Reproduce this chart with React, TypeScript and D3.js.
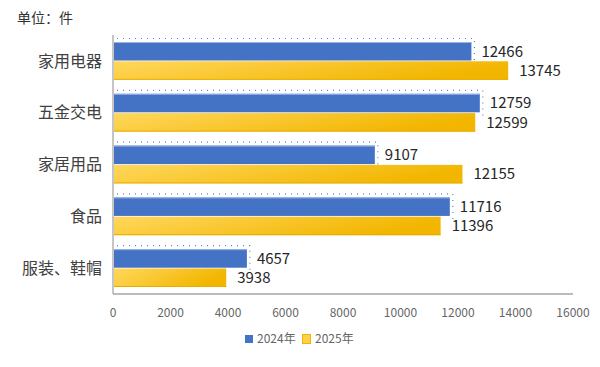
import React, { useEffect, useRef } from 'react';
import * as d3 from 'd3';

const categories = ['家用电器', '五金交电', '家居用品', '食品', '服装、鞋帽'];
const values2024 = [12466, 12759, 9107, 11716, 4657];
const values2025 = [13745, 12599, 12155, 11396, 3938];
const xTicks = [0, 2000, 4000, 6000, 8000, 10000, 12000, 14000, 16000];
const seriesNames = ['2024年', '2025年'];

const App = () => {
  const ref = useRef<SVGSVGElement>(null);

  useEffect(() => {
    const width = 600;
    const height = 367;
    const margin = { top: 35, left: 113, bottom: 73, right: 27 };
    const font = '"Noto Sans CJK SC", "Noto Sans", sans-serif';

    const svg = d3.select(ref.current);
    svg.selectAll('*').remove();
    svg.attr('width', width).attr('height', height);

    const defs = svg.append('defs');
    const grad = defs.append('linearGradient').attr('id', 'yel')
      .attr('x1', '0').attr('y1', '0').attr('x2', '1').attr('y2', '0.3');
    grad.append('stop').attr('offset', '0%').attr('stop-color', '#ffd75c');
    grad.append('stop').attr('offset', '100%').attr('stop-color', '#f2b600');

    const x = d3.scaleLinear().domain([0, 16000]).range([margin.left, width - margin.right]);
    const y = d3.scaleBand().domain(categories).range([margin.top, height - margin.bottom]).paddingInner(0.27).paddingOuter(0.135);
    const sub = d3.scaleBand().domain(seriesNames).range([0, y.bandwidth()]).paddingInner(0.04);

    // unit
    svg.append('text').attr('x', 17).attr('y', 23).text('单位：件')
      .attr('font-family', font).attr('font-size', 14).attr('fill', '#333');

    // axes lines
    const bottomY = height - margin.bottom;
    svg.append('line').attr('x1', x(0)).attr('x2', x(0)).attr('y1', margin.top).attr('y2', bottomY)
      .attr('stroke', '#a6a6a6').attr('stroke-width', 1.3);
    svg.append('line').attr('x1', x(0)).attr('x2', x(16000)).attr('y1', bottomY).attr('y2', bottomY)
      .attr('stroke', '#a6a6a6').attr('stroke-width', 1.3);

    svg.append('g').selectAll('text').data(xTicks).enter().append('text')
      .attr('x', d => x(d)).attr('y', bottomY + 23).attr('text-anchor', 'middle')
      .attr('font-family', font).attr('font-size', 12).attr('fill', '#666')
      .text(d => String(d));

    // category labels
    svg.append('g').selectAll('text').data(categories).enter().append('text')
      .attr('x', 102).attr('y', d => (y(d) as number) + y.bandwidth() / 2)
      .attr('dy', '0.35em').attr('text-anchor', 'end')
      .attr('font-family', font).attr('font-size', 16).attr('fill', '#404040')
      .text(d => d);

    const g = svg.append('g');
    categories.forEach((c, i) => {
      const y0 = (y(c) as number) + (sub('2024年') as number);
      const y1 = (y(c) as number) + (sub('2025年') as number);
      const h = sub.bandwidth();
      const xe0 = x(values2024[i]);
      const xe1 = x(values2025[i]);

      // dotted shadow around blue bar
      g.append('path')
        .attr('d', `M${x(0) + 4},${y0 - 3.5} H${xe0 + 3} V${y0 + h + 4}`)
        .attr('fill', 'none').attr('stroke', '#5b84d6').attr('stroke-width', 1.2)
        .attr('stroke-dasharray', '1,5');

      g.append('rect').attr('x', x(0) + 1).attr('y', y0).attr('width', xe0 - x(0) - 1).attr('height', h)
        .attr('fill', '#4472c4');
      g.append('line').attr('x1', x(0) + 1).attr('x2', xe0).attr('y1', y0 + 0.5).attr('y2', y0 + 0.5)
        .attr('stroke', '#9db4e3').attr('stroke-width', 1);

      g.append('rect').attr('x', x(0) + 1).attr('y', y1).attr('width', xe1 - x(0) - 1).attr('height', h)
        .attr('fill', 'url(#yel)');
      g.append('line').attr('x1', x(0) + 1).attr('x2', xe1).attr('y1', y1 + h - 0.5).attr('y2', y1 + h - 0.5)
        .attr('stroke', '#e8ad00').attr('stroke-width', 1);

      g.append('text').attr('x', xe0 + 10).attr('y', y0 + h / 2).attr('dy', '0.35em')
        .attr('font-family', font).attr('font-size', 15).attr('fill', '#262626').text(values2024[i]);
      g.append('text').attr('x', xe1 + 11).attr('y', y1 + h / 2).attr('dy', '0.35em')
        .attr('font-family', font).attr('font-size', 15).attr('fill', '#262626').text(values2025[i]);
    });

    // legend
    const lg = svg.append('g').attr('transform', 'translate(245,339)');
    lg.append('rect').attr('x', 0).attr('y', -4).attr('width', 8).attr('height', 8).attr('fill', '#4472c4');
    lg.append('text').attr('x', 12).attr('y', 0).attr('dy', '0.35em').text(seriesNames[0])
      .attr('font-family', font).attr('font-size', 12).attr('fill', '#666');
    lg.append('rect').attr('x', 57.5).attr('y', -4.5).attr('width', 8).attr('height', 9)
      .attr('fill', '#fdd24a').attr('stroke', '#f2b400').attr('stroke-width', 1);
    lg.append('text').attr('x', 70).attr('y', 0).attr('dy', '0.35em').text(seriesNames[1])
      .attr('font-family', font).attr('font-size', 12).attr('fill', '#666');
  }, []);

  return (
    <svg ref={ref} style={{ position: 'absolute', left: 0, top: 0, background: '#fff' }}></svg>
  );
};

export default App;
